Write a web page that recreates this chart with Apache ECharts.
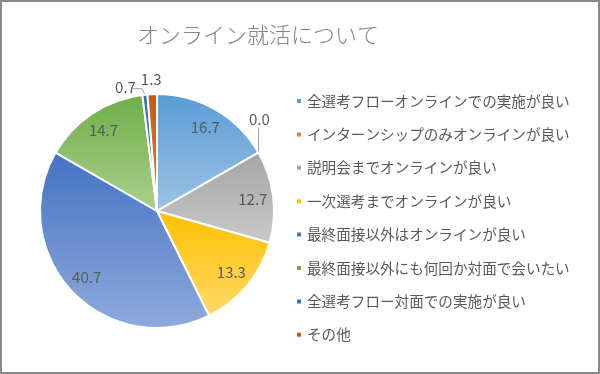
<!DOCTYPE html>
<html>
<head>
<meta charset="utf-8">
<script src="https://cdn.jsdelivr.net/npm/echarts@6/dist/echarts.min.js"></script>
<style>
html,body{margin:0;padding:0;background:#fff;}
#c{width:600px;height:374px;}
</style>
</head>
<body>
<div id="c"></div>
<script>
const titleText = 'オンライン就活について';
const categories = [
  '全選考フローオンラインでの実施が良い',
  'インターンシップのみオンラインが良い',
  '説明会までオンラインが良い',
  '一次選考までオンラインが良い',
  '最終面接以外はオンラインが良い',
  '最終面接以外にも何回か対面で会いたい',
  '全選考フロー対面での実施が良い',
  'その他'
];
const values = [16.7, 0.0, 12.7, 13.3, 40.7, 14.7, 0.7, 1.3];
const baseColors = ['#5B9BD5', '#ED7D31', '#A5A5A5', '#FFC000', '#4472C4', '#70AD47', '#2E75B6', '#C55A11'];
const lightColors = ['#9DC3E6', '#F4B183', '#C9C9C9', '#FFD966', '#8FAADC', '#A9D18E', '#5B87B8', '#D9814A'];

const FONT = '"Noto Sans CJK JP", "Noto Sans", sans-serif';
const R = 117;
const CX = 157, CY = 211;
const smallLimit = 5;
const LINE_COLOR = '#a0a0a0';

// Placement of outside labels for the small slices, relative to each slice's anchor point on the rim.
const outsidePlacement = {
  1: {mode: 'above', dx: 1, gap: 26, vertLeader: true},
  6: {mode: 'left', dx: 9, dy: 7, line: true},
  7: {mode: 'above', dx: -1, gap: 7}
};

function grad(i) {
  return new echarts.graphic.LinearGradient(0, 0, 0, 1, [
    {offset: 0, color: baseColors[i]},
    {offset: 1, color: lightColors[i]}
  ]);
}

const mainData = categories.map((name, i) => {
  const pl = outsidePlacement[i] || {};
  return {
    name: name,
    value: values[i],
    itemStyle: {color: grad(i)},
    label: {show: values[i] < smallLimit},
    labelLine: {show: values[i] < smallLimit && !!pl.line}
  };
});

const ringData = categories.map((name, i) => ({
  name: name,
  value: values[i],
  label: {show: values[i] >= smallLimit}
}));

function placeSmallLabel(params) {
  const t = outsidePlacement[params.dataIndex];
  if (!t || !params.labelLinePoints) return {};
  const p0 = params.labelLinePoints[0];
  if (t.mode === 'above') {
    return {x: p0[0] + t.dx, y: p0[1] - t.gap, align: 'center', verticalAlign: 'bottom'};
  }
  const lx = p0[0] - t.dx, ly = p0[1] - t.dy;
  return {
    x: lx, y: ly, align: 'right', verticalAlign: 'middle',
    labelLinePoints: [[p0[0], p0[1]], [p0[0] - 3, ly + 1], [lx - 3, ly + 1]]
  };
}

// Rim point of a slice's mid-angle, using the same centre/radius/start angle as the pie series.
function rimPoint(idx) {
  const total = values.reduce((a, b) => a + b, 0);
  let cum = 0;
  for (let i = 0; i < idx; i++) cum += values[i];
  const mid = (cum + values[idx] / 2) / total * Math.PI * 2;
  return [CX + R * Math.sin(mid), CY - R * Math.cos(mid)];
}

const leaderGraphics = Object.keys(outsidePlacement)
  .filter(k => outsidePlacement[k].vertLeader)
  .map(k => {
    const p = rimPoint(+k);
    const px = Math.round(p[0]) + 0.5;
    return {
      type: 'line', silent: true, z: 50,
      shape: {x1: px, y1: p[1] - 1, x2: px, y2: p[1] - outsidePlacement[k].gap + 1},
      style: {stroke: LINE_COLOR, lineWidth: 1}
    };
  });

const frame = {
  type: 'rect', z: 100, silent: true,
  shape: {x: 1, y: 1, width: 598, height: 372},
  style: {fill: 'none', stroke: '#8a8a8a', lineWidth: 2}
};

const chart = echarts.init(document.getElementById('c'), null, {renderer: 'canvas'});
chart.setOption({
  animation: false,
  backgroundColor: '#fff',
  title: {
    text: titleText,
    left: 137, top: 24, padding: 0,
    textStyle: {fontFamily: FONT, fontSize: 22, fontWeight: 300, color: '#858585'}
  },
  legend: {
    orient: 'vertical',
    left: 295, top: 93, padding: 0,
    icon: 'rect',
    itemWidth: 6, itemHeight: 6,
    itemGap: 17.4,
    textStyle: {fontFamily: FONT, fontSize: 14.6, color: '#595959', lineHeight: 16},
    data: categories.map((n, i) => ({name: n, itemStyle: {color: baseColors[i]}}))
  },
  graphic: {elements: [frame].concat(leaderGraphics)},
  series: [
    {
      type: 'pie',
      center: [CX, CY],
      radius: [0, R],
      startAngle: 90,
      clockwise: true,
      avoidLabelOverlap: false,
      itemStyle: {borderColor: '#fff', borderWidth: 2},
      label: {
        position: 'outside',
        fontFamily: FONT, fontSize: 15, color: '#595959',
        formatter: p => p.value.toFixed(1)
      },
      labelLine: {length: 8, length2: 4, lineStyle: {color: LINE_COLOR, width: 1}},
      labelLayout: placeSmallLabel,
      data: mainData
    },
    {
      type: 'pie',
      center: [CX, CY],
      radius: [R * 0.6, R],
      startAngle: 90,
      clockwise: true,
      silent: true,
      itemStyle: {color: 'rgba(0,0,0,0)', borderWidth: 0},
      label: {
        position: 'inside',
        fontFamily: FONT, fontSize: 15, color: '#595959',
        formatter: p => p.value.toFixed(1)
      },
      labelLine: {show: false},
      data: ringData
    }
  ]
});
</script>
</body>
</html>
